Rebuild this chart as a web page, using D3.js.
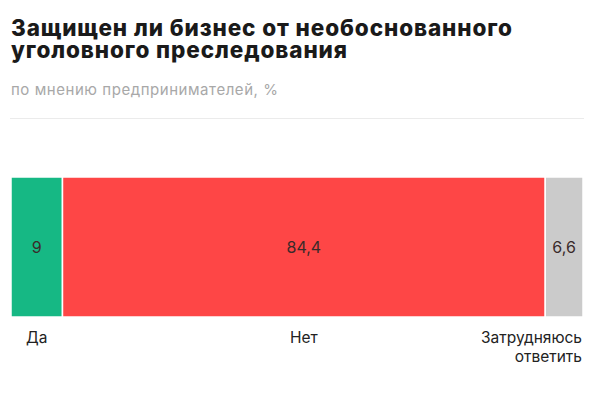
<!DOCTYPE html>
<html>
<head>
<meta charset="utf-8">
<script src="https://d3js.org/d3.v7.min.js"></script>
<style>
  body { margin: 0; background: #fff; }
  text { font-family: Inter, Roboto, "Noto Sans", sans-serif; }
</style>
</head>
<body>
<div id="chart"></div>
<script>
  var categories = ["Да", "Нет", "Затрудняюсь ответить"];
  var values = [9, 84.4, 6.6];
  var valueLabels = ["9", "84,4", "6,6"];
  var colors = ["#16b884", "#fe4646", "#cbcbcb"];

  var width = 600, height = 393;
  var margin = {left: 11, right: 17, top: 177, bottom: 76};

  var svg = d3.select("#chart").append("svg")
    .attr("width", width)
    .attr("height", height);

  // title
  var titleLines = ["Защищен ли бизнес от необоснованного", "уголовного преследования"];
  svg.append("g").selectAll("text")
    .data(titleLines)
    .enter().append("text")
    .attr("x", 11)
    .attr("y", function(d, i) { return 35.5 + i * 22.5; })
    .style("font-size", "22.5px")
    .style("font-weight", 800)
    .style("letter-spacing", "0.9px")
    .style("fill", "#1a1a1a")
    .text(function(d) { return d; });

  svg.append("text")
    .attr("x", 11)
    .attr("y", 95)
    .style("font-size", "15px")
    .style("letter-spacing", "0.55px")
    .style("fill", "#a8a8a8")
    .text("по мнению предпринимателей, %");

  svg.append("line")
    .attr("x1", 10).attr("x2", 584)
    .attr("y1", 118.5).attr("y2", 118.5)
    .style("stroke", "#ebebeb")
    .style("stroke-width", 1);

  // stacked bar
  var starts = [];
  var acc = 0;
  values.forEach(function(v) { starts.push(acc); acc += v; });

  var x = d3.scaleLinear()
    .domain([0, d3.sum(values)])
    .range([margin.left, width - margin.right]);

  var y = d3.scaleBand()
    .domain(["bar"])
    .range([margin.top, height - margin.bottom])
    .padding(0);

  var seg = svg.append("g").selectAll("g")
    .data(values)
    .enter().append("g");

  seg.append("rect")
    .attr("x", function(d, i) { return x(starts[i]); })
    .attr("y", y("bar"))
    .attr("width", function(d, i) { return x(starts[i] + d) - x(starts[i]); })
    .attr("height", y.bandwidth())
    .style("fill", function(d, i) { return colors[i]; })
    .style("stroke", "#fff")
    .style("stroke-width", 1.5);

  seg.append("text")
    .attr("x", function(d, i) { return (x(starts[i]) + x(starts[i] + d)) / 2; })
    .attr("y", y("bar") + y.bandwidth() / 2 + 6)
    .attr("text-anchor", "middle")
    .style("font-size", "16px")
    .style("fill", "#3a2a2a")
    .text(function(d, i) { return valueLabels[i]; });

  // category labels
  seg.append("text")
    .attr("y", 343)
    .attr("text-anchor", function(d, i) { return i == 2 ? "end" : "middle"; })
    .style("font-size", "15.5px")
    .style("fill", "#222")
    .each(function(d, i) {
      var t = d3.select(this);
      if (i == 2) {
        var words = categories[i].split(" ");
        words.forEach(function(w, k) {
          t.append("tspan")
            .attr("x", x(starts[i] + d) - 1)
            .attr("dy", k ? 19 : 0)
            .text(w);
        });
      } else {
        t.attr("x", (x(starts[i]) + x(starts[i] + d)) / 2).text(categories[i]);
      }
    });
</script>
</body>
</html>
